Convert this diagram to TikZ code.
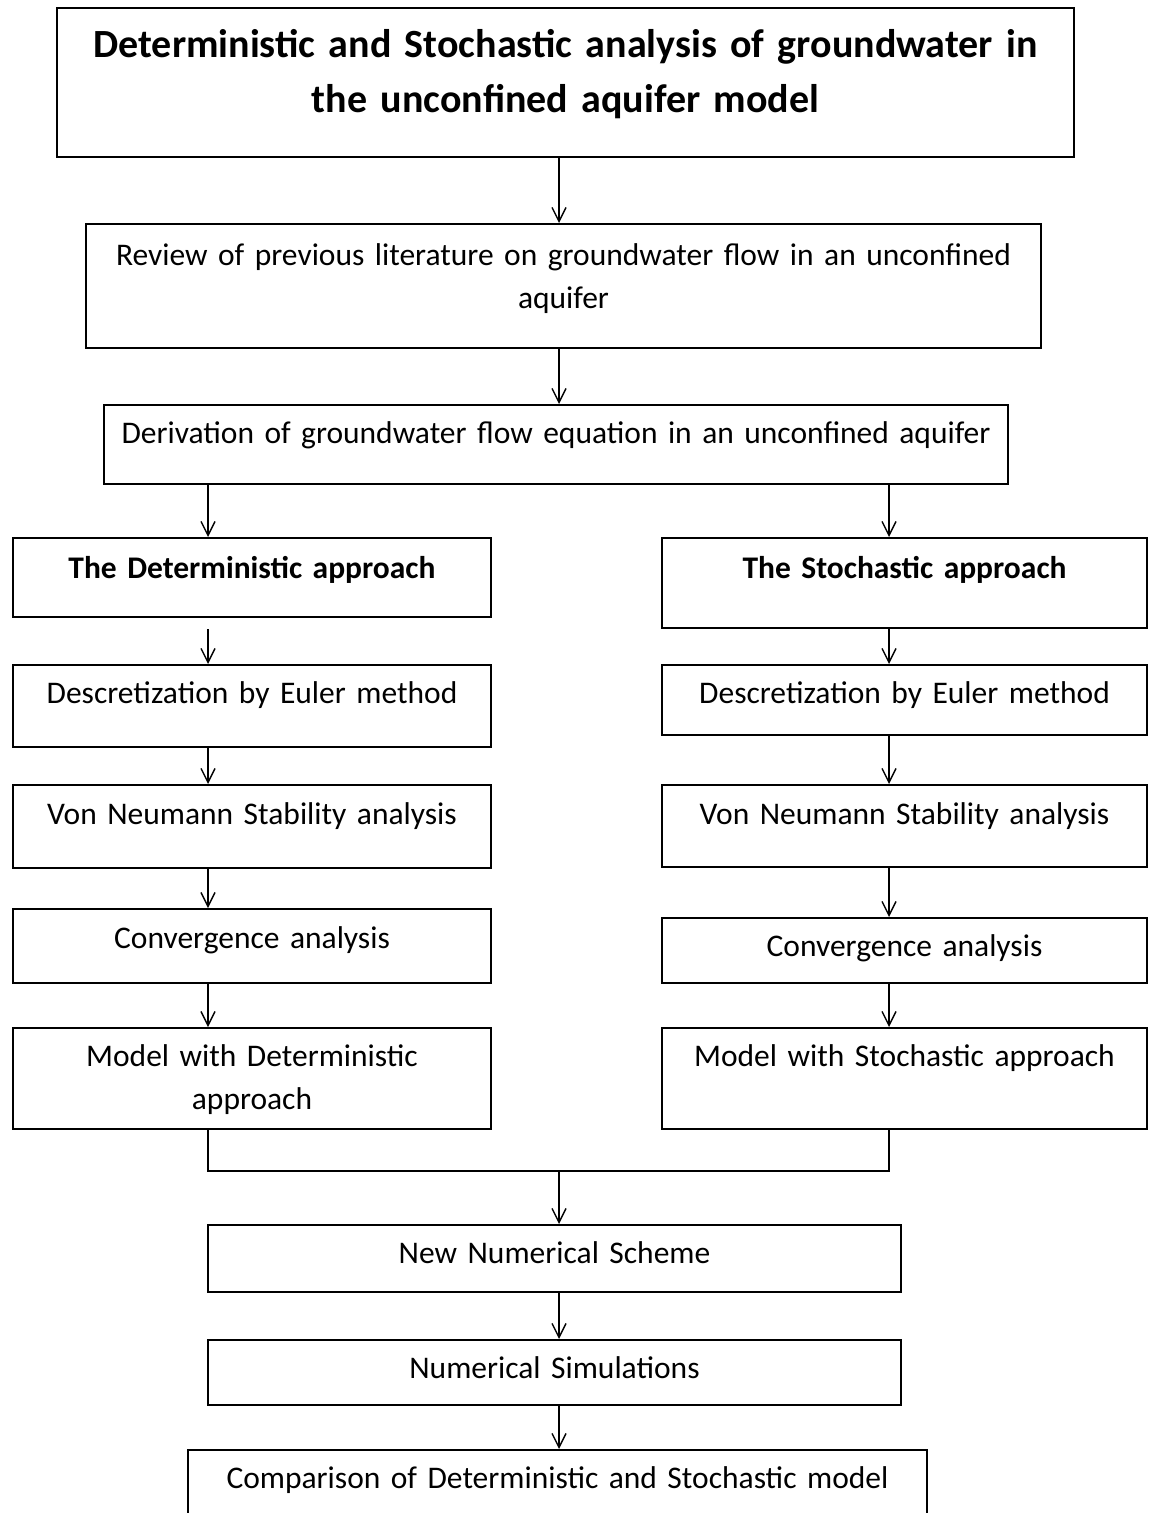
\documentclass[tikz,border=0pt]{standalone}
\usepackage{fontspec}
\setmainfont{Carlito}
\usetikzlibrary{arrows.meta}

\tikzset{
    box/.style={draw, line width=1pt, inner sep=0pt, anchor=north west, align=center, text height=19.5pt},
    flow/.style={->, line width=0.7pt},
}

\begin{document}
\begin{tikzpicture}[x=0.5pt, y=-0.5pt, >={Straight Barb[length=7pt, width=7pt]}, font=\fontsize{15.75pt}{21.5pt}\selectfont]
        \useasboundingbox (0, 0) rectangle (1148, 1513);

        % x of the arrow columns
        \coordinate (lx) at (208, 0);
        \coordinate (mx) at (559, 0);
        \coordinate (rx) at (889, 0);

        % top part
        \node[box, text width=508.5pt, text height=25pt, text depth=49.5pt, font=\fontsize{20pt}{27.5pt}\selectfont\bfseries] (title) at (56, 7)
        {Deterministic and Stochastic analysis of groundwater in\\the unconfined aquifer model};
        \node[box, text width=477.5pt, text height=21pt, text depth=41pt] (review) at (85, 223)
        {Review of previous literature on groundwater flow in an unconfined\\aquifer};
        \node[box, text width=452pt, text depth=20pt] (deriv) at (103, 404)
        {Derivation of groundwater flow equation in an unconfined aquifer};

        % deterministic column
        \node[box, text width=239pt, text height=20pt, text depth=19.5pt, font=\fontsize{15.75pt}{21.5pt}\selectfont\bfseries] (detA) at (12, 537) {The Deterministic approach};
        \node[box, text width=239pt, text height=19pt, text depth=22pt] (detD) at (12, 664) {Descretization by Euler method};
        \node[box, text width=239pt, text depth=22pt] (detV) at (12, 784) {Von Neumann Stability analysis};
        \node[box, text width=239pt, text depth=17.5pt] (detC) at (12, 908) {Convergence analysis};
        \node[box, text width=239pt, text height=19pt, text depth=31.5pt] (detM) at (12, 1027) {Model with Deterministic\\approach};

        % stochastic column
        \node[box, text width=242.5pt, text height=20pt, text depth=25pt, font=\fontsize{15.75pt}{21.5pt}\selectfont\bfseries] (stoA) at (661, 537) {The Stochastic approach};
        \node[box, text width=242.5pt, text height=19pt, text depth=16pt] (stoD) at (661, 664) {Descretization by Euler method};
        \node[box, text width=242.5pt, text depth=21.5pt] (stoV) at (661, 784) {Von Neumann Stability analysis};
        \node[box, text width=242.5pt, text height=19pt, text depth=13.5pt] (stoC) at (661, 917) {Convergence analysis};
        \node[box, text width=242.5pt, text height=19pt, text depth=31.5pt] (stoM) at (661, 1027) {Model with Stochastic approach};

        % bottom part
        \node[box, text width=346.5pt, text height=19pt, text depth=14.5pt] (scheme) at (207, 1224) {New Numerical Scheme};
        \node[box, text width=346.5pt, text height=19pt, text depth=13.5pt] (simul) at (207, 1339) {Numerical Simulations};
        \node[box, text width=369.5pt, text height=19pt, text depth=21.5pt] (compar) at (187, 1449) {Comparison of Deterministic and Stochastic model};

        % arrows
        \draw[flow] (title.south -| mx) -- (review.north -| mx);
        \draw[flow] (review.south -| mx) -- (deriv.north -| mx);
        \draw[flow] (deriv.south -| lx) -- (detA.north -| lx);
        \draw[flow] (deriv.south -| rx) -- (stoA.north -| rx);

        \draw[flow] (stoA.south -| lx) -- (detD.north -| lx);
        \draw[flow] (detD.south -| lx) -- (detV.north -| lx);
        \draw[flow] (detV.south -| lx) -- (detC.north -| lx);
        \draw[flow] (detC.south -| lx) -- (detM.north -| lx);

        \draw[flow] (stoA.south -| rx) -- (stoD.north -| rx);
        \draw[flow] (stoD.south -| rx) -- (stoV.north -| rx);
        \draw[flow] (stoV.south -| rx) -- (stoC.north -| rx);
        \draw[flow] (stoC.south -| rx) -- (stoM.north -| rx);

        % join of the two columns
        \coordinate (join) at (559, 1171);
        \draw[line width=0.7pt] (detM.south -| lx) |- (join) -| (stoM.south -| rx);
        \draw[flow] (join) -- (scheme.north -| mx);
        \draw[flow] (scheme.south -| mx) -- (simul.north -| mx);
        \draw[flow] (simul.south -| mx) -- (compar.north -| mx);
    \end{tikzpicture}
\end{document}
